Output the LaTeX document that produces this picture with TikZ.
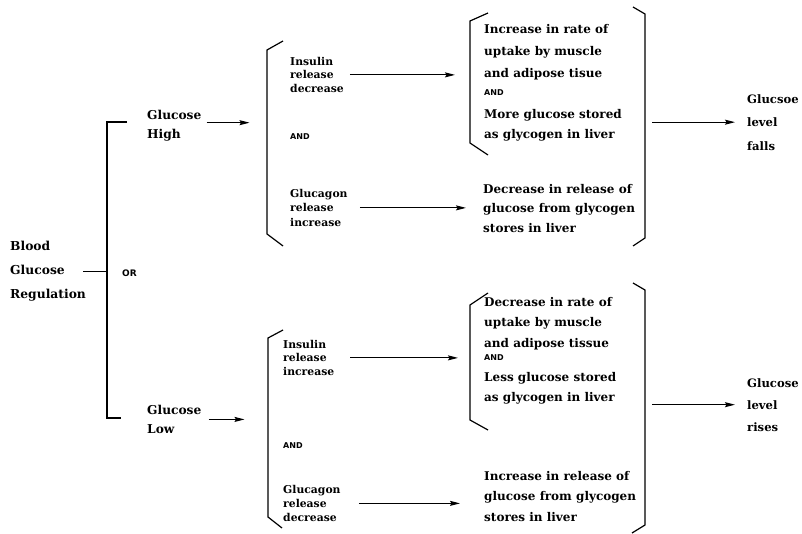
\documentclass[tikz,border=0pt]{standalone}
\usepackage{fontspec}
\setmainfont{DejaVu Serif}
\newfontfamily\capsf{DejaVu Sans}
\usetikzlibrary{arrows.meta}
\begin{document}
\begin{tikzpicture}[x=1pt,y=-1pt,
  txt/.style 2 args={anchor=north west, inner sep=0pt, align=left, font=\bfseries\fontsize{#1}{#2}\selectfont},
  andlabel/.style={anchor=west, inner sep=0pt, font=\capsf\bfseries\fontsize{8}{9}\selectfont},
  orlabel/.style={anchor=west, inner sep=0pt, font=\capsf\bfseries\fontsize{9}{10}\selectfont},
  ln/.style={line width=1.1pt},
  arr/.style={line width=1.2pt, -{Stealth[length=10pt,width=5pt,inset=1.5pt]}},
  brk/.style={line width=1.2pt, line join=miter}]
\useasboundingbox (0,0) rectangle (802,534);
\fill[white] (0,0) rectangle (802,534);

% left part
\node[txt={12.3}{24}] (blood) at (10,241) {Blood\\Glucose\\Regulation};
\node[orlabel] (or) at (122,273) {OR};
\node[txt={12.2}{19}] (gH) at (147,110) {Glucose\\High};
\node[txt={12.2}{19}] (gL) at (147,405) {Glucose\\Low};

\coordinate (jT) at (107,122);
\coordinate (jB) at (107,418);
\coordinate (tT) at (127,122);
\coordinate (tB) at (121,418);
\draw[ln] (tT) -- (jT) -- (jB) -- (tB);
\draw[ln] ([xshift=-3pt]blood.east) -- (blood.east -| jT);

\draw[arr] ([xshift=5pt,yshift=3pt]gH.east) -- ([xshift=48pt,yshift=3pt]gH.east);
\draw[arr] ([xshift=7pt]gL.east) -- ([xshift=43pt]gL.east);

% middle-left blocks
\node[txt={10.8}{13.5}] (insH) at (290,57) {Insulin\\release\\decrease};
\node[andlabel] (andH) at (290,137) {AND};
\node[txt={10.8}{14.5}] (glcH) at (290,189) {Glucagon\\release\\increase};

\node[txt={10.8}{13.5}] (insL) at (283,340) {Insulin\\release\\increase};
\node[andlabel] (andL) at (283,446) {AND};
\node[txt={10.8}{14}] (glcL) at (283,485) {Glucagon\\release\\decrease};

% brackets left
\draw[brk] (283,41) -- (267,50) -- (267,234) -- (283,246);
\draw[brk] (283,330) -- (268,338) -- (268,517) -- (282,528);

% right text blocks (high)
\node[txt={12}{22}] (upH) at (484,24) {Increase in rate of\\uptake by muscle\\and adipose tisue};
\node[andlabel] (andRH) at (484,93) {AND};
\node[txt={12}{20}] (moreH) at (484,109) {More glucose stored\\as glycogen in liver};
\node[txt={12}{19.5}] (decH) at (483,184) {Decrease in release of\\glucose from glycogen\\stores in liver};

% right text blocks (low)
\node[txt={12}{20.5}] (upL) at (484,297) {Decrease in rate of\\uptake by muscle\\and adipose tissue};
\node[andlabel] (andRL) at (484,358) {AND};
\node[txt={12}{20}] (lessL) at (484,372) {Less glucose stored\\as glycogen in liver};
\node[txt={12}{20.5}] (incL) at (484,471) {Increase in release of\\glucose from glycogen\\stores in liver};

% small brackets
\draw[brk] (488,13) -- (470,21) -- (470,143) -- (488,155);
\draw[brk] (488,293) -- (470,305) -- (470,420) -- (488,430);

% big right brackets
\draw[brk] (633,7) -- (645,14) -- (645,238) -- (633,246);
\draw[brk] (633,283) -- (645,290) -- (645,525) -- (632,533);

% arrows middle
\draw[arr] ([xshift=6pt]insH.east) -- ([xshift=-29pt]insH.east -| upH.west);
\draw[arr] ([xshift=12pt]glcH.east) -- ([xshift=-17pt]glcH.east -| decH.west);
\draw[arr] ([xshift=16pt]insL.east) -- ([xshift=-26pt]insL.east -| upL.west);
\draw[arr] ([xshift=18pt]glcL.east) -- ([xshift=-24pt]glcL.east -| incL.west);

% outcomes
\node[txt={11.6}{23.5}] (fallH) at (747,94) {Glucsoe\\level\\falls};
\node[txt={11.6}{22}] (riseL) at (747,378) {Glucose\\level\\rises};
\draw[arr] ([xshift=-95pt]fallH.west) -- ([xshift=-12pt]fallH.west);
\draw[arr] ([xshift=-95pt]riseL.west) -- ([xshift=-12pt]riseL.west);
\end{tikzpicture}
\end{document}
